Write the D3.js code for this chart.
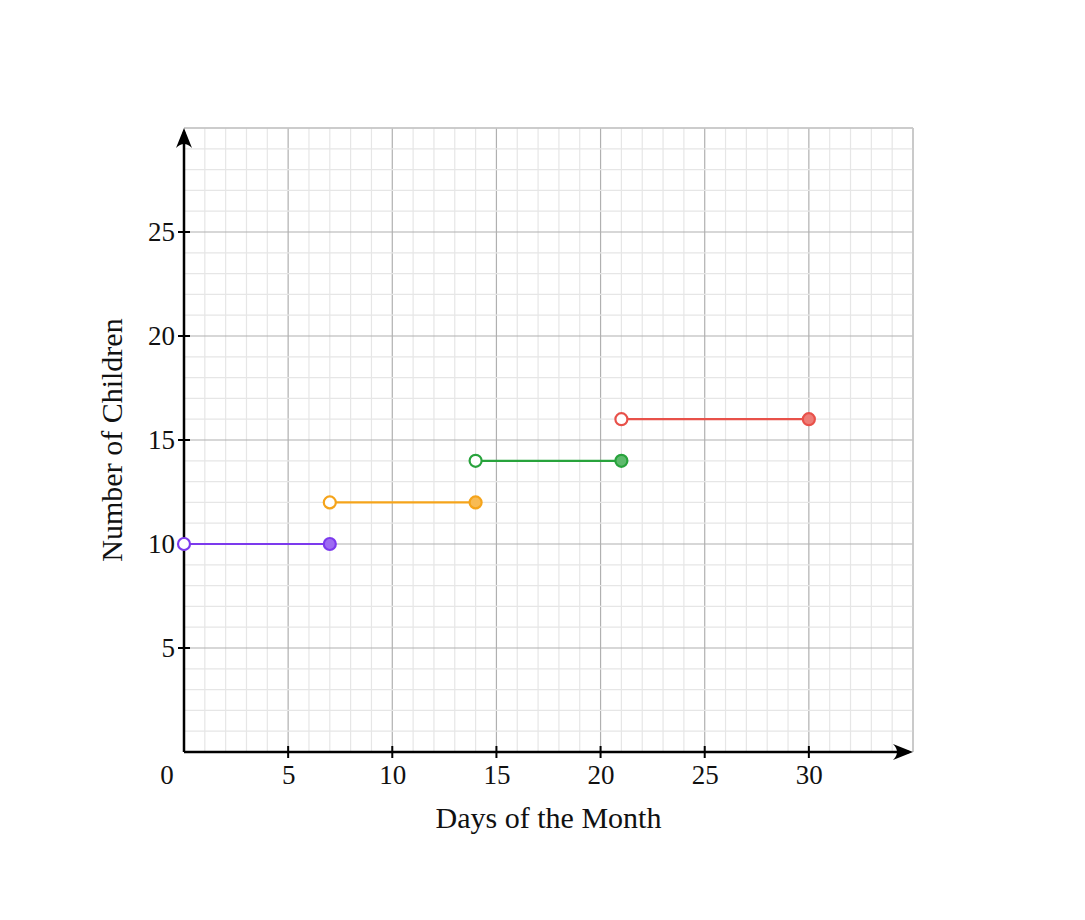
<!DOCTYPE html>
<html>
<head>
<meta charset="utf-8">
<script src="https://cdn.jsdelivr.net/npm/d3@7"></script>
<style>
  body { margin: 0; background: #fff; }
  svg { display: block; }
  text { font-family: "Liberation Serif", "DejaVu Serif", serif; fill: #111; }
</style>
</head>
<body>
<div class="artboard"></div>
<script>
// step function segments: open circle at start, filled circle at end
var startDays = [0, 7, 14, 21];
var endDays = [7, 14, 21, 30];
var children = [10, 12, 14, 16];
var segColors = ['#7c3aed', '#f5a41b', '#28a33c', '#e8514a'];

var xTicks = [5, 10, 15, 20, 25, 30];
var yTicks = [5, 10, 15, 20, 25];
var xLabel = 'Days of the Month';
var yLabel = 'Number of Children';

var width = 1085;
var height = 920;
var margin = { left: 184, right: 172, top: 128, bottom: 168 };
var plotW = width - margin.left - margin.right;
var plotH = height - margin.top - margin.bottom;

var x = d3.scaleLinear().domain([0, 35]).range([0, plotW]);
var y = d3.scaleLinear().domain([0, 30]).range([plotH, 0]);

var svg = d3.select('.artboard').append('svg')
  .attr('width', width)
  .attr('height', height);

var g = svg.append('g')
  .attr('transform', 'translate(' + margin.left + ',' + margin.top + ')');

// grid
var grid = g.append('g').attr('class', 'grid');
d3.range(1, 36).forEach(function(v) {
  grid.append('line')
    .attr('x1', x(v)).attr('x2', x(v))
    .attr('y1', 0).attr('y2', plotH)
    .attr('stroke', v % 5 === 0 ? '#b0b0b0' : '#e6e6e6')
    .attr('stroke-width', 1.2);
});
d3.range(1, 31).forEach(function(v) {
  grid.append('line')
    .attr('x1', 0).attr('x2', plotW)
    .attr('y1', y(v)).attr('y2', y(v))
    .attr('stroke', v % 5 === 0 ? '#b0b0b0' : '#e6e6e6')
    .attr('stroke-width', 1.2);
});
// top / right border lines
grid.append('line').attr('x1', 0).attr('x2', plotW).attr('y1', 0).attr('y2', 0)
  .attr('stroke', '#c8c8c8').attr('stroke-width', 1.5);
grid.append('line').attr('x1', plotW).attr('x2', plotW).attr('y1', 0).attr('y2', plotH)
  .attr('stroke', '#c8c8c8').attr('stroke-width', 1.5);

// axes
var xAxis = g.append('g')
  .attr('class', 'axis axis-x')
  .attr('transform', 'translate(0,' + plotH + ')')
  .call(d3.axisBottom(x).tickValues(xTicks).tickSizeInner(0).tickSizeOuter(0));
xAxis.select('.domain').remove();
xAxis.selectAll('.tick text')
  .style('font-size', '27px')
  .attr('y', 32)
  .attr('dy', 0);

var yAxis = g.append('g')
  .attr('class', 'axis axis-y')
  .call(d3.axisLeft(y).tickValues(yTicks).tickSizeInner(0).tickSizeOuter(0));
yAxis.select('.domain').remove();
yAxis.selectAll('.tick text')
  .style('font-size', '27px')
  .attr('x', -9)
  .attr('dy', '0.33em');

// tick marks crossing the axes
xTicks.forEach(function(v) {
  g.append('line').attr('x1', x(v)).attr('x2', x(v))
    .attr('y1', plotH - 6).attr('y2', plotH + 6)
    .attr('stroke', '#000').attr('stroke-width', 2);
});
yTicks.forEach(function(v) {
  g.append('line').attr('x1', -6).attr('x2', 6)
    .attr('y1', y(v)).attr('y2', y(v))
    .attr('stroke', '#000').attr('stroke-width', 2);
});

// origin label
g.append('text')
  .attr('x', x(0) - 17).attr('y', plotH + 32)
  .attr('text-anchor', 'middle')
  .style('font-size', '27px')
  .text('0');

// axis lines with arrows
g.append('line').attr('x1', 0).attr('x2', plotW - 4)
  .attr('y1', plotH).attr('y2', plotH)
  .attr('stroke', '#000').attr('stroke-width', 2.5);
g.append('line').attr('x1', 0).attr('x2', 0)
  .attr('y1', plotH).attr('y2', 4)
  .attr('stroke', '#000').attr('stroke-width', 2.5);

g.append('path')
  .attr('d', 'M0,0 L-20,-8 Q-12,0 -20,8 Z')
  .attr('transform', 'translate(' + plotW + ',' + plotH + ')')
  .attr('fill', '#000');
g.append('path')
  .attr('d', 'M0,0 L-20,-8 Q-12,0 -20,8 Z')
  .attr('transform', 'translate(0,0) rotate(-90)')
  .attr('fill', '#000');

// axis titles
svg.append('text')
  .attr('x', margin.left + x(17.5))
  .attr('y', 828)
  .attr('text-anchor', 'middle')
  .style('font-size', '30px')
  .text(xLabel);

svg.append('text')
  .attr('transform', 'translate(122,' + (margin.top + y(15)) + ') rotate(-90)')
  .attr('text-anchor', 'middle')
  .style('font-size', '30px')
  .text(yLabel);

// segments
var segs = startDays.map(function(s, i) {
  return { x0: s, x1: endDays[i], v: children[i], c: segColors[i] };
});

var marks = g.append('g').attr('class', 'marks');
marks.selectAll('line.seg')
  .data(segs).enter().append('line')
  .attr('class', 'seg')
  .attr('x1', function(d) { return x(d.x0); })
  .attr('x2', function(d) { return x(d.x1); })
  .attr('y1', function(d) { return y(d.v); })
  .attr('y2', function(d) { return y(d.v); })
  .attr('stroke', function(d) { return d.c; })
  .attr('stroke-width', 2.2);

marks.selectAll('circle.open')
  .data(segs).enter().append('circle')
  .attr('class', 'open')
  .attr('cx', function(d) { return x(d.x0); })
  .attr('cy', function(d) { return y(d.v); })
  .attr('r', 6)
  .attr('fill', '#fff')
  .attr('stroke', function(d) { return d.c; })
  .attr('stroke-width', 2.2);

marks.selectAll('circle.closed')
  .data(segs).enter().append('circle')
  .attr('class', 'closed')
  .attr('cx', function(d) { return x(d.x1); })
  .attr('cy', function(d) { return y(d.v); })
  .attr('r', 6)
  .attr('fill', function(d) { return d3.interpolateRgb(d.c, '#fff')(0.25); })
  .attr('stroke', function(d) { return d.c; })
  .attr('stroke-width', 2.2);
</script>
</body>
</html>
